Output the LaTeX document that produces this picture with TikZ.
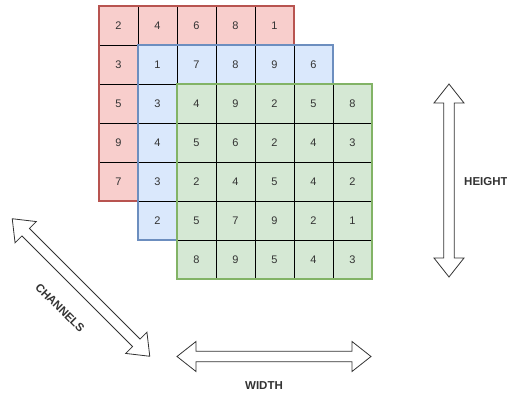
\documentclass[tikz,border=0pt]{standalone}
\usepackage{fontspec}
\setmainfont{Liberation Sans}
\begin{document}
\begin{tikzpicture}[x=1pt,y=1pt,
  cell/.style={draw=black, line width=0.9pt, minimum width=39pt, minimum height=39pt,
    inner sep=0pt, text=numgray, font=\fontsize{11}{13}\selectfont},
  frame/.style={line width=2pt},
  arrowbody/.style={draw=black!80, fill=white, line width=0.8pt, line join=miter},
  axislabel/.style={text=numgray, inner sep=0pt, font=\fontsize{11.5}{13}\selectfont\bfseries}]
\definecolor{numgray}{HTML}{333333}
\definecolor{redfill}{HTML}{F8CECC}\definecolor{redline}{HTML}{B85450}
\definecolor{bluefill}{HTML}{DAE8FC}\definecolor{blueline}{HTML}{6C8EBF}
\definecolor{greenfill}{HTML}{D5E8D4}\definecolor{greenline}{HTML}{82B366}
\useasboundingbox (0,0) rectangle (507,394);

% one 5x5 feature map: #1 name, #2 fill, #3 border, #4 top-left x, #5 top-left y, #6 entries
\newcommand\featuremap[6]{%
  \foreach \v [count=\k from 0] in {#6} {
    \pgfmathtruncatemacro\r{int(\k/5)}
    \pgfmathtruncatemacro\c{mod(\k,5)}
    \node[cell, fill=#2] (#1-\r-\c) at ({#4+19.5+39*\c},{#5-19.5-39*\r}) {\v};
  }
  \draw[frame, draw=#3] (#4,#5) rectangle ++(195,-195);
}

% double-headed block arrow: #1 centre, #2 angle, #3 length
\newcommand\flexarrow[3]{%
  \begin{scope}[shift={#1}, rotate=#2]
    \pgfmathsetmacro\h{#3/2}
    \pgfmathsetmacro\b{#3/2-19}
    \draw[arrowbody] (-\h,0) -- (-\b,15) -- (-\b,5.3) -- (\b,5.3) -- (\b,15) -- (\h,0)
      -- (\b,-15) -- (\b,-5.3) -- (-\b,-5.3) -- (-\b,-15) -- cycle;
  \end{scope}
}

\featuremap{red}{redfill}{redline}{99}{388}{2,4,6,8,1,3,{},{},{},{},5,{},{},{},{},9,{},{},{},{},7,{},{},{},{}}
\featuremap{blue}{bluefill}{blueline}{138}{349}{1,7,8,9,6,3,{},{},{},{},4,{},{},{},{},3,{},{},{},{},2,{},{},{},{}}
\featuremap{green}{greenfill}{greenline}{177}{310}{4,9,2,5,8,5,6,2,4,3,2,4,5,4,2,5,7,9,2,1,8,9,5,4,3}

% axis arrows
\flexarrow{(449,213.5)}{90}{193}
\flexarrow{(274,37.5)}{0}{194}
\flexarrow{(81,106.5)}{-45}{194.5}

\node[axislabel, anchor=west] (height) at (464,212) {HEIGHT};
\node[axislabel] (width) at (264,8.5) {WIDTH};
\node[axislabel, rotate=-45] (channels) at (60,86) {CHANNELS};
\end{tikzpicture}
\end{document}
